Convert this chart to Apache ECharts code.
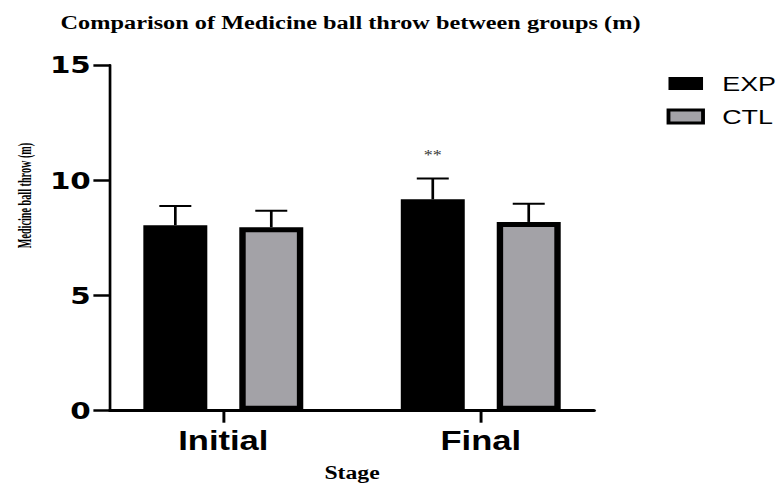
<!DOCTYPE html>
<html>
<head>
<meta charset="utf-8">
<script src="https://cdn.jsdelivr.net/npm/echarts@6/dist/echarts.min.js"></script>
<style>
  html, body { margin: 0; padding: 0; background: #fff; overflow: hidden; }
  #stage { width: 783px; height: 483px; overflow: hidden; }
  /* the figure is drawn on a narrower canvas and widened horizontally */
  #chart { width: 612px; height: 483px; transform: scaleX(1.2794); transform-origin: 0 0; }
</style>
</head>
<body>
<div id="stage"><div id="chart"></div></div>
<script>
// Medicine ball throw (m), mean and SD per group at each stage
const stages = ['Initial', 'Final'];
const expMean = [8.05, 9.17];
const expSD = [0.83, 0.91];
const ctlMean = [7.96, 8.19];
const ctlSD = [0.72, 0.79];
const expSig = ['', '**'];
const ctlSig = ['', ''];
const yTicks = [0, 5, 10, 15];
const yTitle = 'Medicine ball throw (m)';

const BAR_W = 50;
const BAR_GAP = 0.5;            // gap between the two bars, as a share of bar width
const CAP_W = 25;
const SHIFT = BAR_W * (1 + BAR_GAP) / 2;

const stageIdx = stages.map((_, i) => i);

function errorBars(offset, sigs) {
  return function (params, api) {
    const i = api.value(0), m = api.value(1), sd = api.value(2);
    const base = api.coord([i, m]);
    const top = api.coord([i, m + sd]);
    const x = base[0] + offset;
    const children = [
      { type: 'line', shape: { x1: x, y1: base[1], x2: x, y2: top[1] },
        style: { stroke: '#000', lineWidth: 2.1 } },
      { type: 'line', shape: { x1: x - CAP_W / 2, y1: top[1], x2: x + CAP_W / 2, y2: top[1] },
        style: { stroke: '#000', lineWidth: 2 } }
    ];
    const sig = sigs[params.dataIndex];
    if (sig) {
      children.push({ type: 'text', x: x, y: top[1] - 23,
        style: { text: sig, fill: '#333', fontFamily: 'Liberation Serif', fontSize: 14,
                 align: 'center', verticalAlign: 'middle' } });
    }
    return { type: 'group', children: children };
  };
}

const chart = echarts.init(document.getElementById('chart'), null, { renderer: 'svg' });
chart.setOption({
  animation: false,
  backgroundColor: '#fff',
  title: {
    text: 'Comparison of Medicine ball throw between groups (m)',
    left: 269, top: 8, textAlign: 'center',
    textStyle: { fontFamily: 'Liberation Serif', fontWeight: 'bold', fontSize: 19, color: '#000' }
  },
  legend: {
    orient: 'vertical', left: 521, top: 73, padding: 0, itemGap: 12,
    itemWidth: 27, itemHeight: 13, icon: 'rect',
    textStyle: { fontFamily: 'Liberation Sans', fontSize: 21, color: '#000', padding: [0, 0, 0, 10] },
    data: [
      { name: 'EXP', itemStyle: { color: '#000', borderWidth: 0 } },
      { name: 'CTL', itemStyle: { color: '#a3a2a7', borderColor: '#000', borderWidth: 3 } }
    ]
  },
  // vertical axis title, set in a condensed serif
  graphic: [{
    type: 'text', x: 19, y: 195.5, rotation: Math.PI / 2, scaleX: 0.68,
    style: { text: yTitle, fill: '#000', fontFamily: 'Liberation Serif', fontWeight: 'bold',
             fontSize: 15, align: 'center', verticalAlign: 'middle' }
  }],
  grid: { left: 86, right: 147.7, top: 65, bottom: 72.3, outerBoundsMode: 'none' },
  xAxis: {
    type: 'value', min: -0.44, max: 1.44,
    splitLine: { show: false },
    axisLine: { onZero: false, lineStyle: { color: '#000', width: 3 } },
    axisTick: { customValues: stageIdx, length: 12, lineStyle: { color: '#000', width: 2.3 } },
    axisLabel: {
      customValues: stageIdx, formatter: v => stages[Math.round(v)], margin: 17,
      fontFamily: 'Liberation Sans', fontWeight: 'bold', fontSize: 27, color: '#000'
    },
    name: 'Stage', nameLocation: 'middle', nameGap: 53,
    nameTextStyle: { fontFamily: 'Liberation Serif', fontWeight: 'bold', fontSize: 18.5, color: '#000' }
  },
  yAxis: {
    type: 'value', min: yTicks[0], max: yTicks[yTicks.length - 1], interval: yTicks[1] - yTicks[0],
    splitLine: { show: false },
    axisLine: { show: true, onZero: false, lineStyle: { color: '#000', width: 2.1 } },
    axisTick: { show: true, length: 13, lineStyle: { color: '#000', width: 2.5 } },
    axisLabel: { margin: 15, fontFamily: 'DejaVu Sans', fontWeight: 'bold', fontSize: 23, color: '#000' }
  },
  series: [
    {
      name: 'EXP', type: 'bar', barWidth: BAR_W, barGap: (BAR_GAP * 100) + '%',
      data: stageIdx.map(i => [i, expMean[i]]),
      itemStyle: { color: '#000', borderColor: '#000', borderWidth: 5 }
    },
    {
      name: 'CTL', type: 'bar', barWidth: BAR_W, barGap: (BAR_GAP * 100) + '%',
      data: stageIdx.map(i => [i, ctlMean[i]]),
      itemStyle: { color: '#a3a2a7', borderColor: '#000', borderWidth: 5 }
    },
    {
      name: 'EXP', type: 'custom', renderItem: errorBars(-SHIFT, expSig),
      data: stageIdx.map(i => [i, expMean[i], expSD[i]]), encode: { x: 0, y: 1 }, z: 3
    },
    {
      name: 'CTL', type: 'custom', renderItem: errorBars(SHIFT, ctlSig),
      data: stageIdx.map(i => [i, ctlMean[i], ctlSD[i]]), encode: { x: 0, y: 1 }, z: 3
    }
  ]
});
</script>
</body>
</html>
